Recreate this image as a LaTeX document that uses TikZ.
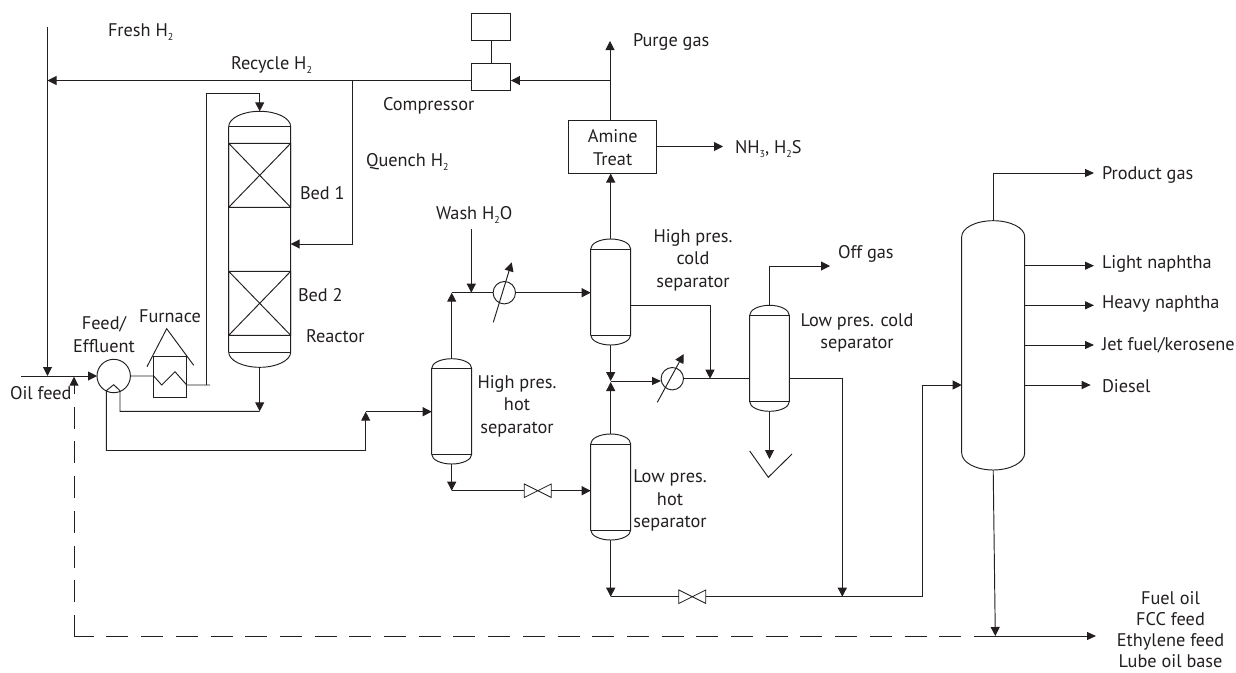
\documentclass[tikz,border=0pt]{standalone}
\usepackage{fontspec}
\setmainfont{PT Sans}
\usetikzlibrary{arrows.meta}
\definecolor{ink}{HTML}{231F20}
\newcommand{\subs}[1]{\raisebox{-4pt}{\fontsize{10}{10}\selectfont #1}}
\tikzset{
  line/.style={draw=ink,line width=0.95pt,line join=miter},
  arr/.style={line,-{Triangle[length=9pt,width=9pt]}},
  arrs/.style={line,-{Triangle[length=9pt,width=8pt]}},
  dashline/.style={line,dash pattern=on 22pt off 12.7pt},
  hidden/.style={inner sep=0pt,outer sep=0pt},
  boxn/.style={line,inner sep=0pt,outer sep=0pt,fill=none},
  lab/.style={inner sep=0pt,outer sep=0pt,text=ink,font=\fontsize{18.3}{22.4}\selectfont,align=center},
  labl/.style={lab,anchor=west},
}
\newcommand{\vessel}[7]{%
  \pgfmathsetmacro{\cxv}{(#2+#3)/2}\pgfmathsetmacro{\hw}{(#3-#2)/2}%
  \pgfmathsetmacro{\kx}{0.5523*\hw}\pgfmathsetmacro{\kt}{0.5523*(#5-#4)}\pgfmathsetmacro{\kb}{0.5523*(#7-#6)}%
  \node[hidden,minimum width={(#3-#2)*1pt},minimum height={(#7-#4)*1pt}] (#1) at (\cxv,{(#4+#7)/2}) {};
  \draw[line] (#2,#5) .. controls (#2,#5-\kt) and (\cxv-\kx,#4) .. (\cxv,#4)
     .. controls (\cxv+\kx,#4) and (#3,#5-\kt) .. (#3,#5) -- (#3,#6)
     .. controls (#3,#6+\kb) and (\cxv+\kx,#7) .. (\cxv,#7)
     .. controls (\cxv-\kx,#7) and (#2,#6+\kb) .. (#2,#6) -- cycle;
}
\newcommand{\vesselT}[7]{\vessel{#1}{#2}{#3}{#4}{#5}{#6}{#7}\draw[line] (#2,#5) -- (#3,#5) (#2,#6) -- (#3,#6);}
\newcommand{\bedx}[4]{\draw[line] (#1,#3) rectangle (#2,#4) (#1,#3) -- (#2,#4) (#1,#4) -- (#2,#3);}
\newcommand{\valve}[3]{\node[hidden,minimum width=27pt,minimum height=13.5pt] (#1) at (#2,#3) {};
  \draw[draw=ink,line width=0.8pt] (#1.north west) -- (#1.south east) -- (#1.north east) -- (#1.south west) -- cycle;}
\begin{document}
\begin{tikzpicture}[x=1pt,y=-1pt]
\useasboundingbox (0,0) rectangle (1236,672);
% equipment
\vesselT{reactor}{228.7}{290.7}{111.3}{126.7}{352}{367.3}
\bedx{228.7}{290.7}{143.3}{207.3}
\bedx{228.7}{290.7}{271.3}{335.3}
\vesselT{hps}{431.7}{471.7}{358.7}{368.3}{454.3}{464}
\vesselT{hcs}{590.7}{630.7}{239}{249}{335}{345}
\vesselT{lhs}{590.7}{630.7}{434}{444}{530}{540}
\vesselT{lcs}{749.7}{789.3}{305.3}{315.3}{401.7}{411.3}
\vessel{col}{961.7}{1024.7}{220.7}{236.7}{453}{470}
\node[boxn,minimum width=39.5pt,minimum height=26.5pt] (motor) at (491.2,27.2) {};
\node[boxn,minimum width=39.5pt,minimum height=26.5pt] (comp) at (491.2,77.2) {};
\node[boxn,minimum width=88.5pt,minimum height=53pt] (amine) at (612.7,147) {};
\node[boxn,circle,minimum size=33.4pt] (feedex) at (113.7,376) {};
\node[boxn,circle,minimum size=22.4pt] (ex1) at (504.3,292.7) {};
\node[boxn,circle,minimum size=22.4pt] (ex2) at (672.3,378.7) {};
\node[boxn,minimum width=32.6pt,minimum height=41.3pt] (furn) at (170,377.3) {};
\valve{v1}{537.8}{490.7}
\valve{v2}{692.3}{596.7}
% furnace roof and trap
\coordinate (rfa) at (147,366.7); \coordinate (rfb) at (166.7,328.7); \coordinate (rfc) at (193.7,365.3);
\draw[line] (rfa) -- (rfb) -- (rfc);
\coordinate (ta) at (749.7,451); \coordinate (tb) at (768.3,477.3); \coordinate (tc) at (792,454);
\draw[line] (ta) -- (tb) -- (tc);
% coordinates
\coordinate (freshtop) at (47.5,27);
\coordinate (oilin) at (21,376);
\coordinate (freshj) at (47.5,376);
\coordinate (recyclej) at (47.5,80.5);
\coordinate (quenchj) at (352.3,80.5);
\coordinate (purgej) at (610,80.5);
\coordinate (purgetop) at (610,41);
\coordinate (furnout) at (206.7,385);
\coordinate (furnend) at (210,385);
\coordinate (furntop) at (206.7,93.3);
\coordinate (rtop) at (259.7,93.3);
\coordinate (qc) at (352.3,244);
\coordinate (zl) at (106.3,390.7);
\coordinate (zm) at (113.7,384.7);
\coordinate (zr) at (120,390.7);
\coordinate (zrb) at (120,411.3);
\coordinate (rbot) at (259.7,411.3);
\coordinate (zlb) at (106.3,450.7);
\coordinate (hpb) at (365.7,450.7);
\coordinate (hpi) at (365.7,411.7);
\coordinate (hpsb) at (451.7,490.7);
\coordinate (hpst) at (451.7,292.7);
\coordinate (washtop) at (471.3,229);
\coordinate (washj) at (471.3,292.7);
\coordinate (hcb) at (610.7,381);
\coordinate (hco) at (710,305.3);
\coordinate (hcj) at (710,378.7);
\coordinate (off) at (769.5,266);
\coordinate (offe) at (830,266);
\coordinate (trapt) at (769.5,459);
\coordinate (lcr) at (842.3,378.7);
\coordinate (lcj) at (842.3,596.7);
\coordinate (lhb) at (610.7,596.7);
\coordinate (colf) at (922,596.7);
\coordinate (colfi) at (922,385);
\coordinate (prod) at (993.2,173);
\coordinate (prode) at (1094,173);
\coordinate (bottoms) at (995.3,636);
\coordinate (dcorner) at (74,636);
\coordinate (dlast) at (961.5,636);
\coordinate (dsolid) at (974,636);
\coordinate (dend) at (1096,636);
\coordinate (dup) at (74,394);
\coordinate (dtip) at (74,376.7);
\coordinate (dtopdash) at (74,406.7);
% recycle loop
\draw[arr] (comp.west |- quenchj) -- (recyclej);
\draw[line] (freshtop) -- (recyclej);
\draw[arr] (recyclej) -- (freshj);
\draw[line] (motor) -- (comp);
\draw[arr] (purgej) -- (comp.east |- purgej);
\draw[arr] (amine.north -| purgej) -- (purgetop);
\draw[arr] (quenchj) -- (qc) -- (qc -| reactor.east);
\draw[arr] (amine.east |- 0,146.5) -- (723,146.5);
\draw[arr] (hcs.north) -- (amine.south -| hcs.north);
% feed train
\draw[arr] (oilin) -- (feedex.west);
\draw[line] (feedex.east) -- (153.7,376) -- (161.7,385) -- (175,371.7) -- (186.7,385) -- (furnend);
\draw[arr] (furnout) -- (furntop) -- (rtop) -- (reactor.north);
\draw[line] (zlb) -- (zl) -- (zm) -- (zr) -- (zrb) -- (rbot);
\draw[arr] (reactor.south) -- (rbot);
\draw[arr] (zlb) -- (hpb) -- (hpi);
\draw[line,line width=1.5pt] (281,450.7) -- (308,450.7);
\draw[arr] (hpi) -- (hpi -| hps.west);
% high pressure hot separator
\draw[arr] (hps.north) -- (hpst);
\draw[line] (hpst) -- (ex1.west);
\draw[arr] (ex1.east) -- (ex1.east -| hcs.west);
\draw[arr] (washtop) -- (washj);
\draw[arr] ([shift={(-11,29.6)}]ex1.center) -- ([shift={(7.4,-30.4)}]ex1.center);
\draw[arr] (hps.south) -- (hpsb);
\draw[line] (hpsb) -- (v1.west);
\draw[arr] (v1.east) -- (v1.east -| lhs.west);
% cold section
\draw[arr] (hcs.south) -- (hcb);
\draw[arr] (lhs.north) -- (610.7,382);
\draw[arrs] (hcb) -- (661,381);
\draw[arr] ([shift={(-15,23.6)}]ex2.center) -- ([shift={(11.4,-24.7)}]ex2.center);
\draw[line] (ex2.east) -- (hcj -| lcs.west);
\draw[arr] (hcs.east |- hco) -- (hco) -- (hcj);
\draw[line] (lcs.north) -- (off);
\draw[arr] (off) -- (offe);
\draw[arr] (lcs.south) -- (trapt);
\draw[arr] (lcs.east |- lcr) -- (lcr) -- (lcj);
\draw[arr] (lhs.south) -- (lhb);
\draw[line] (lhb) -- (v2.west);
\draw[line] (v2.east) -- (colf) -- (colfi);
\draw[arr] (colfi) -- (colfi -| col.west);
% column
\draw[line] (col.north) -- (prod);
\draw[arrs] (prod) -- (prode);
\draw[arrs] (col.east |- 0,265.7) -- (1094,265.7);
\draw[arrs] (col.east |- 0,305.3) -- (1094,305.3);
\draw[arrs] (col.east |- 0,345) -- (1094,345);
\draw[arrs] (col.east |- 0,385) -- (1090.7,385);
\draw[arr] (col.south) -- (bottoms);
\draw[arrs] (dsolid) -- (dend);
\draw[dashline,dash phase=2.3pt] (dcorner) -- (dlast);
\draw[dashline] (dtopdash) -- (dcorner);
\draw[arr] (dup) -- (dtip);
% labels
\node[labl] (t1) at (108,32.5) {Fresh H\subs{2}};
\node[labl] (t2) at (231,65) {Recycle H\subs{2}};
\node[labl] (t3) at (383,105.5) {Compressor};
\node[labl] (t4) at (366,162) {Quench H\subs{2}};
\node[labl] (t5) at (300,193) {Bed 1};
\node[labl] (t6) at (298,295.5) {Bed 2};
\node[labl] (t7) at (306,336) {Reactor};
\node[lab] (t8) at (104,334.7) {Feed/\\Effluent};
\node[lab] (t9) at (170,316) {Furnace};
\node[labl] (t10) at (10,393) {Oil feed};
\node[labl] (t11) at (436,215) {Wash H\subs{2}O};
\node[labl] (t12) at (633,42) {Purge gas};
\node[lab] (t13) at ([yshift=-0.5pt]amine.center) {Amine\\Treat};
\node[labl] (t14) at (735,149) {NH\subs{3}, H\subs{2}S};
\node[lab] (t15) at (693,260.2) {High pres.\\cold\\separator};
\node[labl] (t16) at (838,254) {Off gas};
\node[lab] (t17) at (857,333) {Low pres. cold\\separator};
\node[lab] (t18) at (517,406) {High pres.\\hot\\separator};
\node[lab] (t19) at (670,500.5) {Low pres.\\hot\\separator};
\node[labl] (t20) at (1102,175) {Product gas};
\node[labl] (t21) at (1102,264) {Light naphtha};
\node[labl] (t22) at (1102,304) {Heavy naphtha};
\node[labl] (t23) at (1102,345.5) {Jet fuel/kerosene};
\node[labl] (t24) at (1102,386) {Diesel};
\node[lab,font=\fontsize{18.3}{21}\selectfont] (t25) at (1170.5,630) {Fuel oil\\FCC feed\\Ethylene feed\\Lube oil base};
\end{tikzpicture}
\end{document}
